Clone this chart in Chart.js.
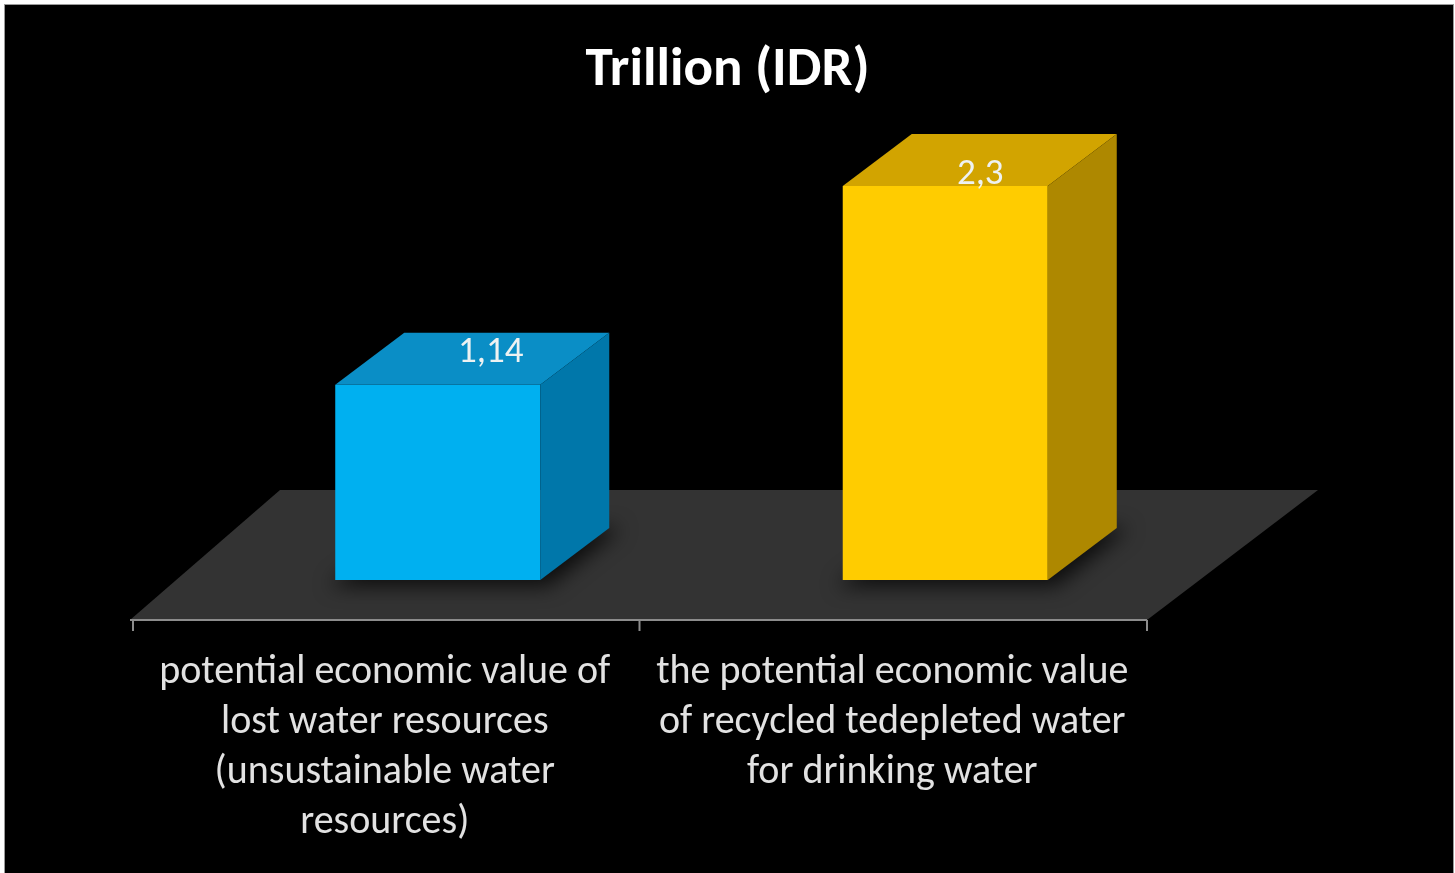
<!DOCTYPE html>
<html>
<head>
<meta charset="utf-8">
<title>Trillion (IDR)</title>
<script src="https://cdn.jsdelivr.net/npm/chart.js@4.4.1/dist/chart.umd.min.js"></script>
<style>
    html, body { margin: 0; padding: 0; background: #ffffff; overflow: hidden; }
    #frame {
        position: absolute; left: 4px; top: 4px; width: 1448px; height: 880px;
        background: #000000; border: 1px solid #9a9a9a; border-bottom: none;
    }
    #wrap { position: absolute; left: 0; top: 0; width: 1455px; height: 873px; }
</style>
</head>
<body>
<div id="frame"></div>
<div id="wrap"><canvas id="chart"></canvas></div>
<script>
// Chart data
const categories = [
    ['potential economic value of', 'lost water resources', '(unsustainable water', 'resources)'],
    ['the potential economic value', 'of recycled tedepleted water', 'for drinking water']
];
const values = [1.14, 2.3];

const FONT = "Carlito, Calibri, 'Open Sans', sans-serif";

// face colours per bar: front, top, side
const frontColors = ['#00b0f0', '#ffcc00'];
const topColors = ['#0a8ec6', '#d2a400'];
const sideColors = ['#0077aa', '#ae8800'];

// depth of the bars, and where each value label sits relative to its bar
const barDepth = { dx: 69, dy: -52 };
const labelShift = [{ dx: 53, dy: -32 }, { dx: 35, dy: -11 }];

// Draws the floor, the axis line and the 3D faces of the bars
const threeD = {
    id: 'threeD',
    beforeDatasetsDraw(chart) {
        const ctx = chart.ctx;
        const area = chart.chartArea;
        const y0 = chart.scales.y.getPixelForValue(0);
        const shift = 52;
        const frontY = y0 + 40, backY = y0 - 90;
        ctx.save();
        // floor
        ctx.fillStyle = '#333333';
        ctx.beginPath();
        ctx.moveTo(area.left - shift - 2, frontY);
        ctx.lineTo(area.right - shift, frontY);
        ctx.lineTo(area.right + 119, backY);
        ctx.lineTo(area.left + 96, backY);
        ctx.closePath();
        ctx.fill();
        // axis line and ticks
        ctx.strokeStyle = '#8c8c8c';
        ctx.lineWidth = 2;
        ctx.beginPath();
        ctx.moveTo(area.left - shift - 2, frontY);
        ctx.lineTo(area.right - shift, frontY);
        const xs = chart.scales.x;
        for (let i = 0; i <= categories.length; i++) {
            const x = (i === categories.length ? area.right : xs.getPixelForTick(i) - xs.width / categories.length / 2) - shift;
            const tx = i === 0 ? area.left - shift + 1 : x;
            ctx.moveTo(tx, frontY);
            ctx.lineTo(tx, frontY + 11);
        }
        ctx.stroke();
        // soft shadows under the bars
        const meta = chart.getDatasetMeta(0);
        meta.data.forEach(bar => {
            const p = bar.getProps(['x', 'base', 'width'], true);
            const l = p.x - p.width / 2, r = p.x + p.width / 2;
            ctx.save();
            ctx.filter = 'blur(10px)';
            ctx.fillStyle = 'rgba(0,0,0,0.75)';
            ctx.beginPath();
            ctx.moveTo(l - 6, p.base + 6);
            ctx.lineTo(r + 8, p.base + 6);
            ctx.lineTo(r + barDepth.dx + 12, p.base + barDepth.dy);
            ctx.lineTo(l + barDepth.dx, p.base + barDepth.dy);
            ctx.closePath();
            ctx.fill();
            ctx.restore();
        });
        ctx.restore();
    },
    afterDatasetsDraw(chart) {
        const ctx = chart.ctx;
        const meta = chart.getDatasetMeta(0);
        ctx.save();
        meta.data.forEach((bar, i) => {
            const p = bar.getProps(['x', 'y', 'base', 'width'], true);
            const l = p.x - p.width / 2, r = p.x + p.width / 2;
            const dx = barDepth.dx, dy = barDepth.dy;
            // top face
            ctx.fillStyle = topColors[i];
            ctx.beginPath();
            ctx.moveTo(l, p.y);
            ctx.lineTo(r, p.y);
            ctx.lineTo(r + dx, p.y + dy);
            ctx.lineTo(l + dx, p.y + dy);
            ctx.closePath();
            ctx.fill();
            // side face
            ctx.fillStyle = sideColors[i];
            ctx.beginPath();
            ctx.moveTo(r, p.y);
            ctx.lineTo(r + dx, p.y + dy);
            ctx.lineTo(r + dx, p.base + dy);
            ctx.lineTo(r, p.base);
            ctx.closePath();
            ctx.fill();
            // value label on the top face
            ctx.fillStyle = '#eef2f2';
            ctx.font = '37px ' + FONT;
            ctx.textAlign = 'center';
            ctx.textBaseline = 'middle';
            ctx.fillText(String(values[i]).replace('.', ','), p.x + labelShift[i].dx, p.y + labelShift[i].dy);
        });
        ctx.restore();
    }
};

document.addEventListener('DOMContentLoaded', function() {
    const ctx = document.getElementById('chart').getContext('2d');
    new Chart(ctx, {
        type: 'bar',
        data: {
            labels: categories,
            datasets: [{
                data: values,
                backgroundColor: frontColors,
                borderWidth: 0,
                categoryPercentage: 1,
                barPercentage: 0.404
            }]
        },
        options: {
            responsive: true,
            maintainAspectRatio: false,
            animation: false,
            layout: { padding: { left: 184, right: 184, top: 0, bottom: 0 } },
            plugins: {
                legend: { display: false },
                tooltip: { enabled: false },
                title: {
                    display: true,
                    text: 'Trillion (IDR)',
                    color: '#ffffff',
                    font: { family: FONT, size: 55, weight: 'bold', lineHeight: 1.2 },
                    padding: { top: 38, bottom: 5 }
                }
            },
            scales: {
                x: {
                    grid: { display: false, drawTicks: false },
                    border: { display: false },
                    ticks: {
                        color: '#e2e2e2',
                        font: { family: FONT, size: 40, lineHeight: 1.25 },
                        padding: 68,
                        labelOffset: -53,
                        autoSkip: false,
                        maxRotation: 0
                    },
                    afterFit(scale) { scale.height = 293; }
                },
                y: {
                    position: 'right',
                    min: 0,
                    max: 2.75,
                    grid: { display: false },
                    border: { display: false },
                    ticks: { display: false },
                    afterFit(scale) { scale.width = 72; }
                }
            }
        },
        plugins: [threeD]
    });
});
</script>
</body>
</html>
